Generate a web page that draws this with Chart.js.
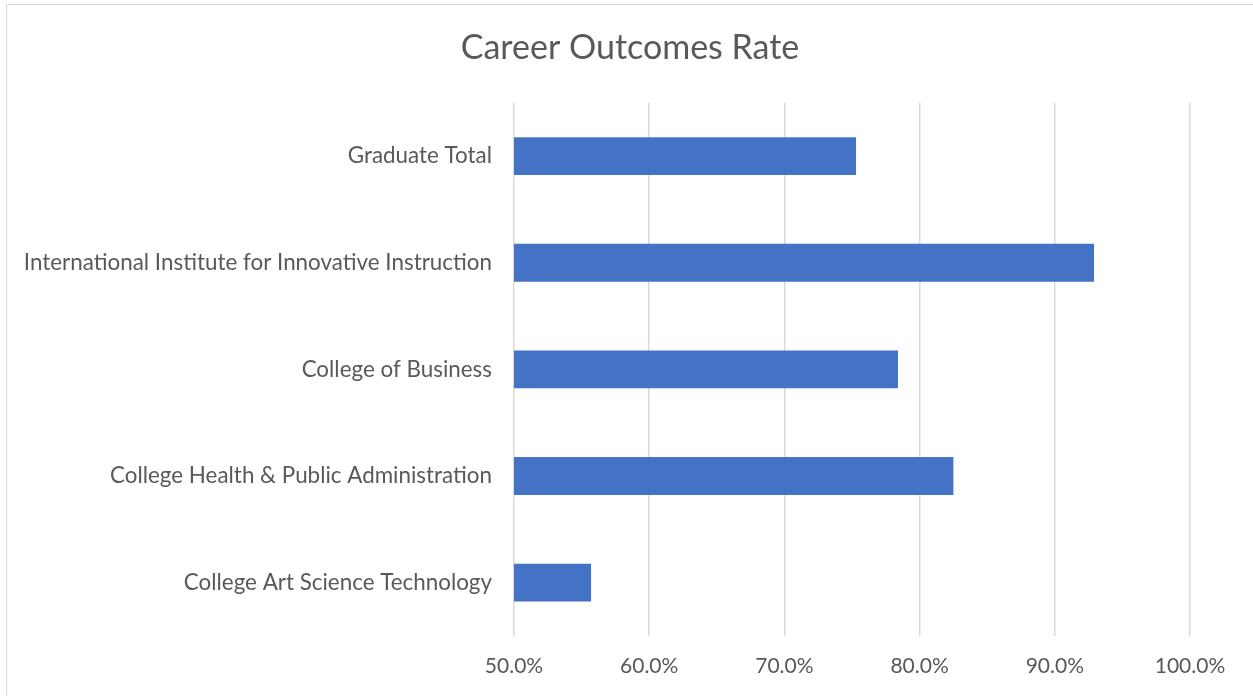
<!DOCTYPE html>
<html>
<head>
<meta charset="utf-8">
<script src="https://cdn.jsdelivr.net/npm/chart.js@4/dist/chart.umd.min.js"></script>
<style>
  html, body { margin: 0; padding: 0; background: #fff; }
  #wrap { position: relative; width: 1253px; height: 696px; overflow: hidden; }
  #frame { position: absolute; left: 6px; top: 4px; width: 1260px; height: 700px; border: 1.5px solid #d9d9d9; box-sizing: border-box; }
  canvas { position: absolute; left: 0; top: 0; }
</style>
</head>
<body>
<div id="wrap">
  <div id="frame"></div>
  <canvas id="c" width="1253" height="696"></canvas>
</div>
<script>
const chartTitle = "Career Outcomes Rate";
const categories = [
  "Graduate Total",
  "International Institute for Innovative Instruction",
  "College of Business",
  "College Health & Public Administration",
  "College Art Science Technology"
];
const rates = [75.3, 92.9, 78.4, 82.5, 55.7];
const tickValues = [50, 60, 70, 80, 90, 100];

const FONT = "Lato, 'Open Sans', sans-serif";
const TEXT = "#595959";

new Chart(document.getElementById('c'), {
  type: 'bar',
  data: {
    labels: categories,
    datasets: [{
      data: rates,
      backgroundColor: '#4472C4',
      borderWidth: 0,
      categoryPercentage: 1.0,
      barPercentage: 0.355
    }]
  },
  options: {
    indexAxis: 'y',
    responsive: false,
    animation: false,
    layout: { padding: { left: 7, right: 0, top: 0, bottom: 0 } },
    plugins: {
      legend: { display: false },
      tooltip: { enabled: false },
      title: {
        display: true,
        text: chartTitle,
        color: TEXT,
        font: { family: FONT, size: 34, weight: 'normal' },
        padding: { top: 28, bottom: 34 }
      }
    },
    scales: {
      x: {
        min: 50, max: 100,
        afterBuildTicks: (scale) => { scale.ticks = tickValues.map(v => ({ value: v })); },
        afterFit: (scale) => { scale.height = 60; },
        border: { display: false },
        grid: { color: '#d9d9d9', lineWidth: 1.5, drawTicks: false },
        ticks: {
          color: TEXT,
          padding: 18,
          font: { family: FONT, size: 21 },
          callback: (v) => Number(v).toFixed(1) + '%'
        }
      },
      y: {
        afterFit: (scale) => { scale.width = 507; },
        border: { display: false },
        grid: { display: false, drawTicks: false },
        ticks: {
          color: TEXT,
          padding: 22,
          font: { family: FONT, size: 22.4 }
        }
      },
      yRight: {
        position: 'right',
        afterFit: (scale) => { scale.width = 63; },
        border: { display: false },
        grid: { display: false, drawTicks: false },
        ticks: { display: false }
      }
    }
  }
});
</script>
</body>
</html>
